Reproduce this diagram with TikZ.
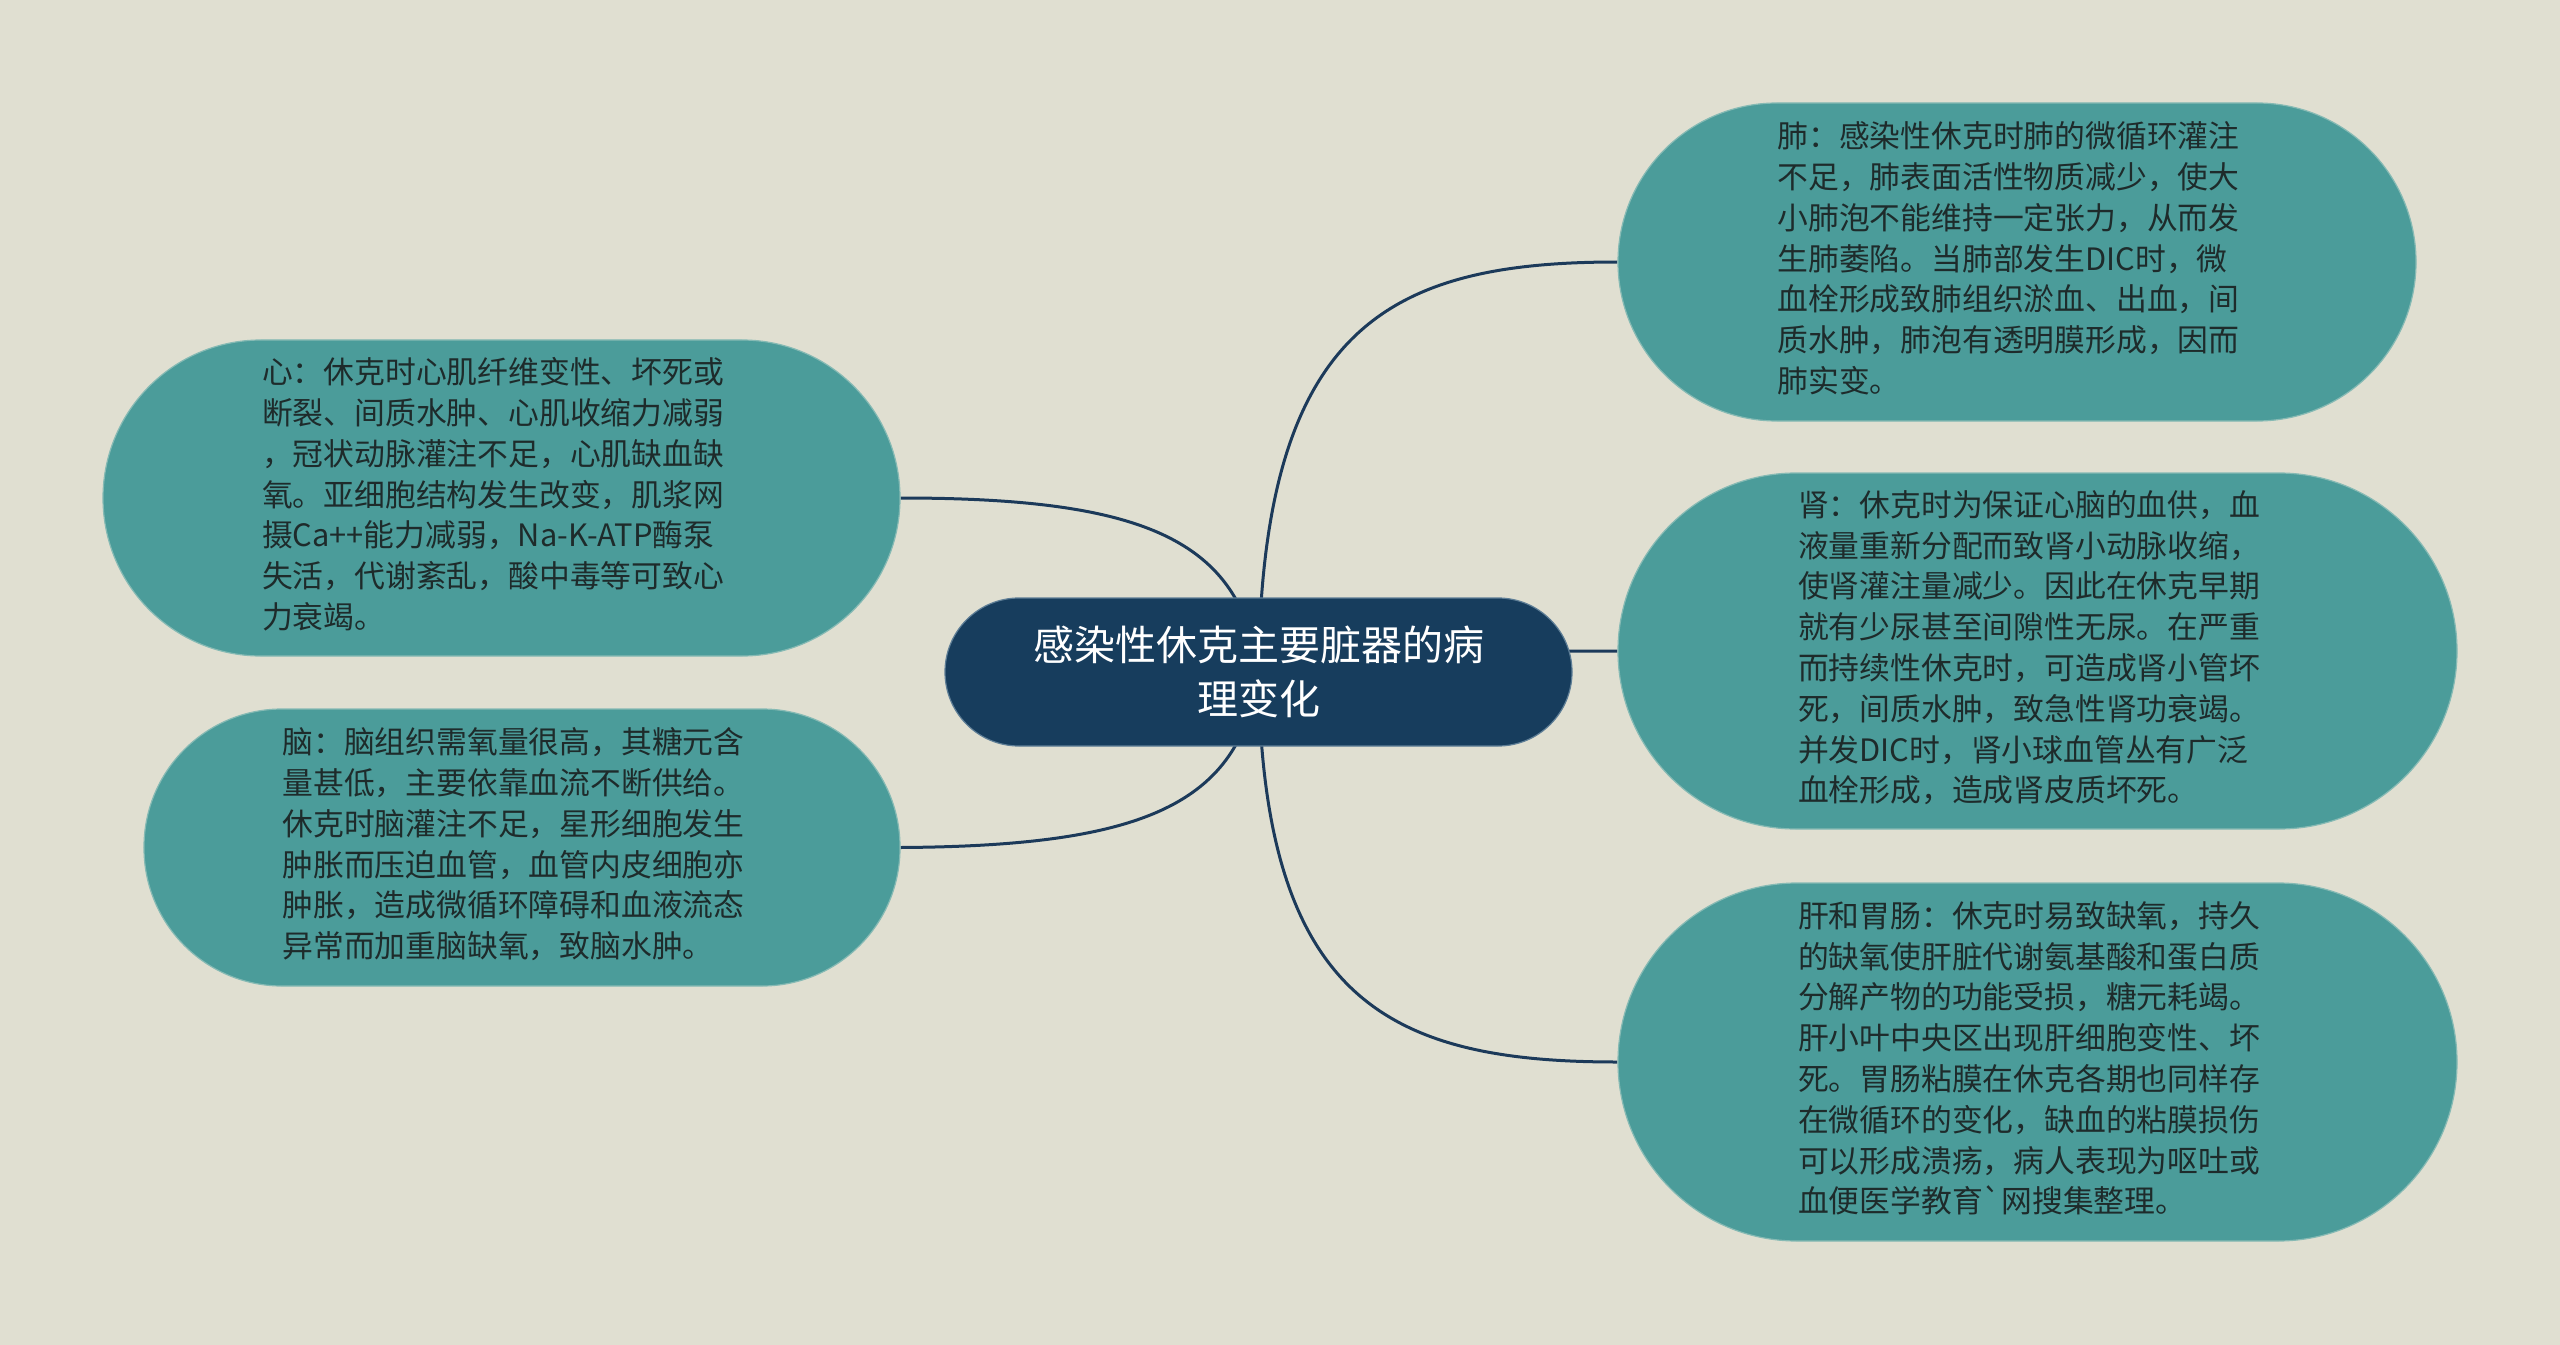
\documentclass[tikz,border=0pt]{standalone}
\usepackage{fontspec}
\newfontfamily\cjk{Noto Sans CJK SC}
\usetikzlibrary{calc}
\definecolor{bgc}{HTML}{E0DFD1}
\definecolor{leaf}{HTML}{4B9C9A}
\definecolor{leafedge}{HTML}{86BAB4}
\definecolor{rootc}{HTML}{173D5D}
\definecolor{rootedge}{HTML}{5E7E96}
\definecolor{conn}{HTML}{1C3A5A}
\definecolor{txt}{HTML}{1E2B2B}
\pgfdeclarelayer{bglayer}
\pgfdeclarelayer{linklayer}
\pgfsetlayers{bglayer,linklayer,main}
\newcommand\leaftext[1]{\begin{tabular}{@{}l@{\hspace{17bp}}}#1\end{tabular}}
\begin{document}
\begin{tikzpicture}[x=1bp,y=-1bp,
  leafbox/.style={fill=leaf, draw=leafedge, line width=1.2bp, align=left, text=txt,
    font=\cjk\fontsize{30.8bp}{40.8bp}\selectfont, inner sep=0pt},
  rootbox/.style={fill=rootc, draw=rootedge, line width=1.2bp, align=center, text=white,
    font=\cjk\fontsize{41bp}{54bp}\selectfont, inner sep=0pt},
  link/.style={draw=conn, line width=3bp}]
\begin{pgfonlayer}{bglayer}
\fill[bgc] (0,0) rectangle (2560,1345);
\end{pgfonlayer}
\useasboundingbox (0,0) rectangle (2560,1345);

\node[rootbox, minimum width=627bp, minimum height=148bp, rounded corners=74bp] (root) at (1258.5,672)
  {感染性休克主要脏器的病\\理变化};

\node[leafbox, minimum width=797bp, minimum height=316bp, rounded corners=158bp] (heart) at (501.5,498)
  {\leaftext{心：休克时心肌纤维变性、坏死或\\断裂、间质水肿、心肌收缩力减弱\\，冠状动脉灌注不足，心肌缺血缺\\氧。亚细胞结构发生改变，肌浆网\\摄Ca++能力减弱，Na-K-ATP酶泵\\失活，代谢紊乱，酸中毒等可致心\\力衰竭。}};

\node[leafbox, minimum width=756bp, minimum height=277bp, rounded corners=138bp] (brain) at (522,847.5)
  {\leaftext{脑：脑组织需氧量很高，其糖元含\\量甚低，主要依靠血流不断供给。\\休克时脑灌注不足，星形细胞发生\\肿胀而压迫血管，血管内皮细胞亦\\肿胀，造成微循环障碍和血液流态\\异常而加重脑缺氧，致脑水肿。}};

\node[leafbox, minimum width=798bp, minimum height=318bp, rounded corners=159bp] (lung) at (2017,262)
  {\leaftext{肺：感染性休克时肺的微循环灌注\\不足，肺表面活性物质减少，使大\\小肺泡不能维持一定张力，从而发\\生肺萎陷。当肺部发生DIC时，微\\血栓形成致肺组织淤血、出血，间\\质水肿，肺泡有透明膜形成，因而\\肺实变。}};

\node[leafbox, minimum width=839bp, minimum height=356bp, rounded corners=178bp] (kidney) at (2037.5,651)
  {\leaftext{肾：休克时为保证心脑的血供，血\\液量重新分配而致肾小动脉收缩，\\使肾灌注量减少。因此在休克早期\\就有少尿甚至间隙性无尿。在严重\\而持续性休克时，可造成肾小管坏\\死，间质水肿，致急性肾功衰竭。\\并发DIC时，肾小球血管丛有广泛\\血栓形成，造成肾皮质坏死。}};

\node[leafbox, minimum width=839bp, minimum height=358bp, rounded corners=179bp] (liver) at (2037.5,1062)
  {\leaftext{肝和胃肠：休克时易致缺氧，持久\\的缺氧使肝脏代谢氨基酸和蛋白质\\分解产物的功能受损，糖元耗竭。\\肝小叶中央区出现肝细胞变性、坏\\死。胃肠粘膜在休克各期也同样存\\在微循环的变化，缺血的粘膜损伤\\可以形成溃疡，病人表现为呕吐或\\血便医学教育`网搜集整理。}};

\begin{pgfonlayer}{linklayer}
\draw[link] (root.center) .. controls (1241,539) and (1143,498) .. (heart.east);
\draw[link] (root.center) .. controls (1241,805) and (1143,846) .. (brain.east);
\draw[link] (root.center) .. controls (1262,327) and (1388,262) .. (lung.west);
\draw[link] (root.center) .. controls (1420,651) and (1500,651) .. (kidney.west);
\draw[link] (root.center) .. controls (1262,1000) and (1388,1062) .. (liver.west);
\end{pgfonlayer}
\end{tikzpicture}
\end{document}
